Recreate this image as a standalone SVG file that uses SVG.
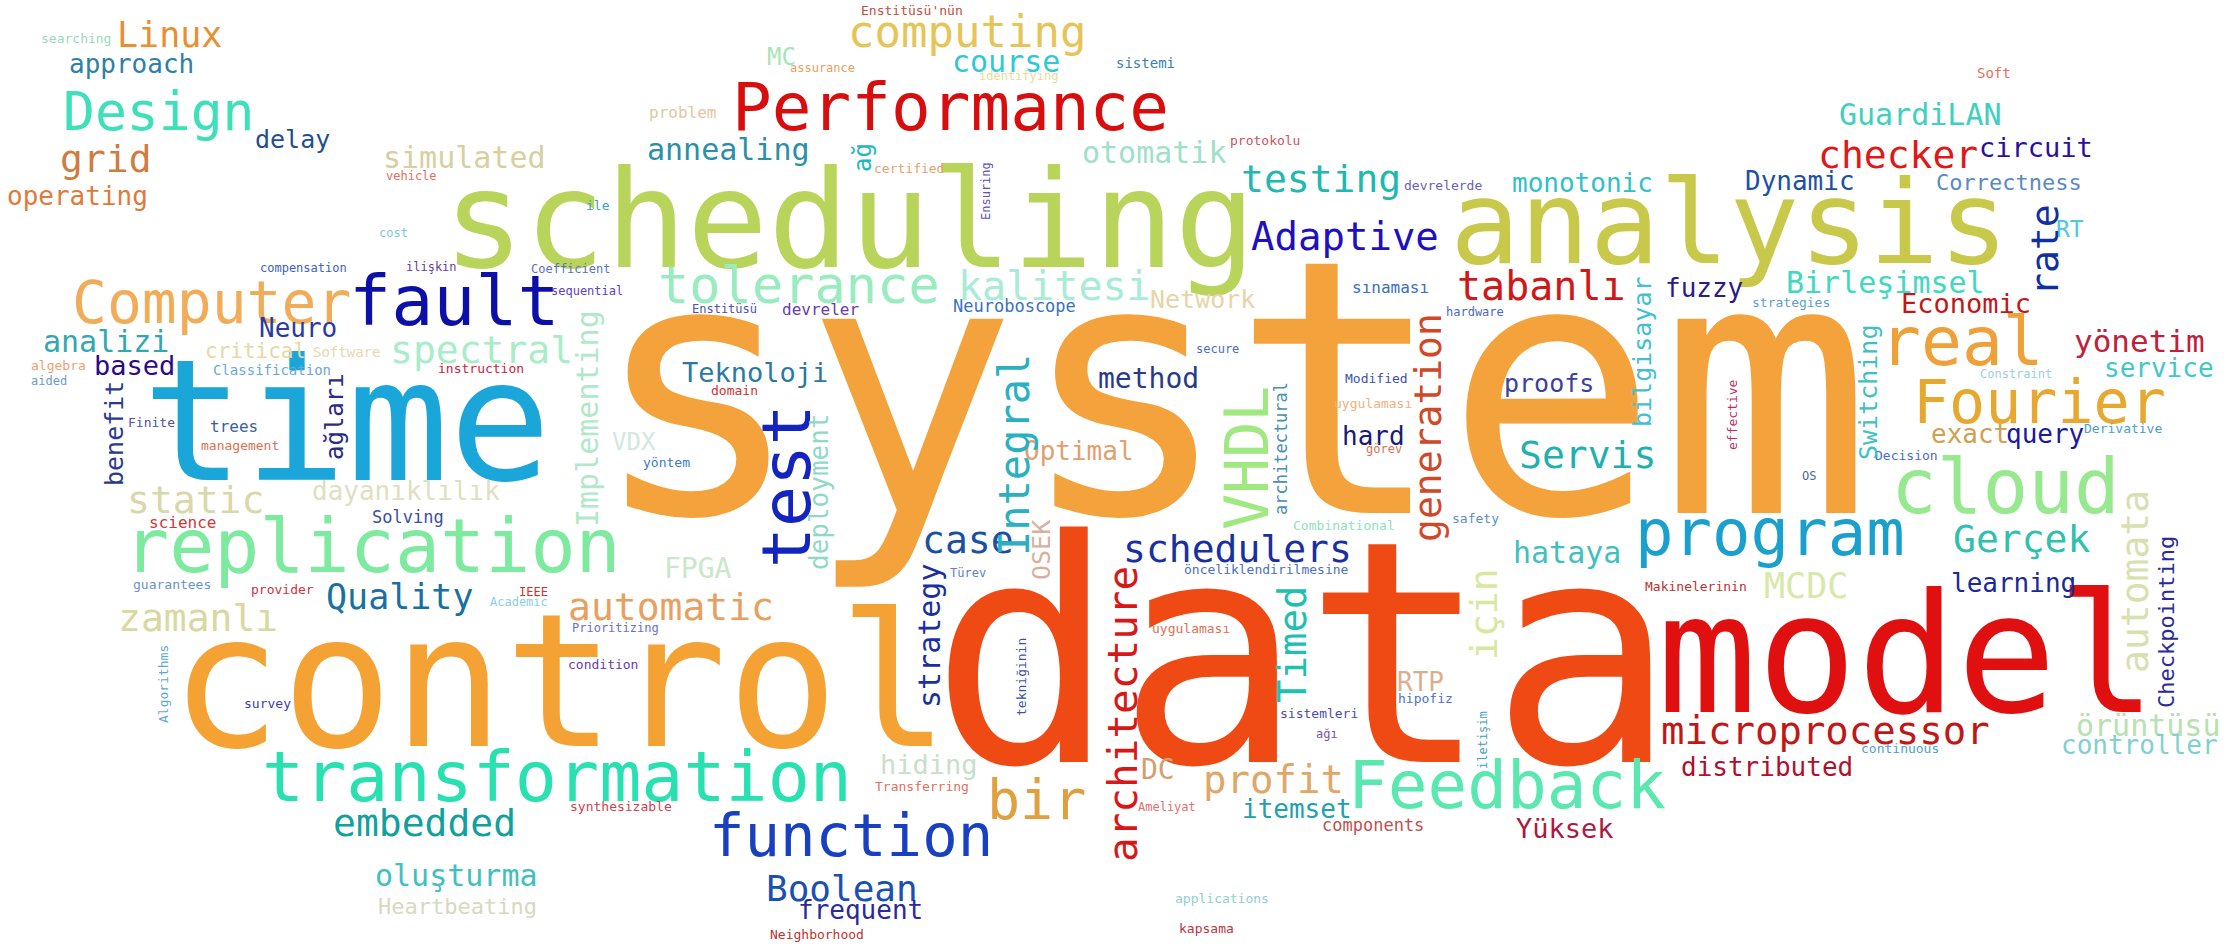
<svg xmlns="http://www.w3.org/2000/svg" width="2227" height="946" viewBox="0 0 2227 946">
<style>
text{font-family:"DejaVu Sans Mono","Liberation Mono",monospace;}
</style>
<rect width="2227" height="946" fill="#ffffff"/>
<g id="big">
<text x="590" y="513" font-size="355" fill="#f4a23c">system</text>
<text x="930" y="762" font-size="310" fill="#f04a14">data</text>
<text x="170" y="746" font-size="185" fill="#f5a235">control</text>
<text x="1657" y="712" font-size="166" fill="#e01010">model</text>
<text x="443" y="267" font-size="135" fill="#b8d45a">scheduling</text>
<text x="1450" y="263" font-size="116" fill="#c8c84a">analysis</text>
<text x="142" y="480" font-size="170" fill="#1aa6d8">time</text>
</g>
<g id="words">
<text x="41" y="43" font-size="13" fill="#9ad8c0">searching</text>
<text x="117" y="47" font-size="35" fill="#e8902f">Linux</text>
<text x="69" y="73" font-size="26" fill="#2f80a8">approach</text>
<text x="63" y="130" font-size="53" fill="#3de0b8">Design</text>
<text x="255" y="148" font-size="25" fill="#1f4f8f">delay</text>
<text x="60" y="172" font-size="38" fill="#cf7c40">grid</text>
<text x="7" y="205" font-size="26" fill="#e07a3a">operating</text>
<text x="383" y="168" font-size="30" fill="#d8cfa0">simulated</text>
<text x="386" y="180" font-size="12" fill="#e07060">vehicle</text>
<text x="379" y="237" font-size="12" fill="#80c8d8">cost</text>
<text x="260" y="272" font-size="12" fill="#4060c0">compensation</text>
<text x="406" y="271" font-size="12" fill="#6a3aa0">ilişkin</text>
<text x="531" y="273" font-size="12" fill="#5a70c8">Coefficient</text>
<text x="551" y="295" font-size="12" fill="#6040c0">sequential</text>
<text x="72" y="323" font-size="58" fill="#f0ac58">Computer</text>
<text x="349" y="325" font-size="70" fill="#0c10a8">fault</text>
<text x="861" y="15" font-size="13" fill="#c05040">Enstitüsü'nün</text>
<text x="848" y="47" font-size="44" fill="#e6c458">computing</text>
<text x="767" y="65" font-size="24" fill="#a8e4b8">MC</text>
<text x="790" y="72" font-size="12" fill="#e8a060">assurance</text>
<text x="952" y="72" font-size="30" fill="#30c8d8">course</text>
<text x="979" y="80" font-size="12" fill="#e8dc98">identifying</text>
<text x="1116" y="68" font-size="14" fill="#3a80b0">sistemi</text>
<text x="732" y="130" font-size="66" fill="#d80e0e">Performance</text>
<text x="649" y="118" font-size="16" fill="#e0c8a0">problem</text>
<text x="647" y="160" font-size="30" fill="#2a8fa8">annealing</text>
<text x="874" y="173" font-size="13" fill="#e8a070">certified</text>
<text x="1082" y="163" font-size="30" fill="#a0e0c8">otomatik</text>
<text x="1230" y="145" font-size="13" fill="#d05060">protokolu</text>
<text x="586" y="210" font-size="13" fill="#3aa0c0">ile</text>
<text x="658" y="303" font-size="52" fill="#98ecc0">tolerance</text>
<text x="958" y="300" font-size="40" fill="#a8ecd8">kalitesi</text>
<text x="1150" y="308" font-size="25" fill="#e8d4a8">Network</text>
<text x="953" y="312" font-size="17" fill="#3a70c0">Neuroboscope</text>
<text x="692" y="313" font-size="12" fill="#5050b0">Enstitüsü</text>
<text x="782" y="315" font-size="16" fill="#6a3ab0">devreler</text>
<text x="1241" y="192" font-size="38" fill="#20b8b0">testing</text>
<text x="1404" y="190" font-size="13" fill="#6a60b0">devrelerde</text>
<text x="1512" y="192" font-size="26" fill="#30c0c8">monotonic</text>
<text x="1251" y="250" font-size="39" fill="#2010c0">Adaptive</text>
<text x="1457" y="300" font-size="40" fill="#d01818">tabanlı</text>
<text x="1352" y="293" font-size="16" fill="#3a70c0">sınaması</text>
<text x="1446" y="316" font-size="12" fill="#4a6ac0">hardware</text>
<text x="1977" y="78" font-size="14" fill="#e07060">Soft</text>
<text x="1839" y="125" font-size="30" fill="#40d0c0">GuardiLAN</text>
<text x="1818" y="168" font-size="38" fill="#e01818">checker</text>
<text x="1979" y="157" font-size="27" fill="#2a10a0">circuit</text>
<text x="1745" y="190" font-size="26" fill="#2050a0">Dynamic</text>
<text x="1936" y="190" font-size="22" fill="#5a8ac0">Correctness</text>
<text x="2056" y="237" font-size="23" fill="#50c8e0">RT</text>
<text x="1665" y="297" font-size="26" fill="#2a1a8a">fuzzy</text>
<text x="1786" y="293" font-size="30" fill="#40d8c0">Birleşimsel</text>
<text x="1752" y="307" font-size="13" fill="#5aa0d0">strategies</text>
<text x="1901" y="313" font-size="27" fill="#c01818">Economic</text>
<text x="259" y="337" font-size="26" fill="#2a3aa0">Neuro</text>
<text x="43" y="352" font-size="30" fill="#30a8b0">analizi</text>
<text x="205" y="358" font-size="21" fill="#e8d8a8">critical</text>
<text x="313" y="357" font-size="14" fill="#e8d8b0">Software</text>
<text x="390" y="363" font-size="38" fill="#a8ecc8">spectral</text>
<text x="31" y="370" font-size="13" fill="#f0a070">algebra</text>
<text x="94" y="375" font-size="27" fill="#2a0a8a">based</text>
<text x="213" y="375" font-size="14" fill="#6aa8d8">Classification</text>
<text x="438" y="373" font-size="13" fill="#d02040">instruction</text>
<text x="31" y="385" font-size="12" fill="#6a9ad0">aided</text>
<text x="128" y="427" font-size="13" fill="#5050a0">Finite</text>
<text x="210" y="432" font-size="16" fill="#3a60a0">trees</text>
<text x="201" y="450" font-size="13" fill="#e07050">management</text>
<text x="312" y="500" font-size="26" fill="#e0e0c0">dayanıklılık</text>
<text x="127" y="513" font-size="38" fill="#d8d8a8">static</text>
<text x="149" y="528" font-size="16" fill="#d03838">science</text>
<text x="372" y="523" font-size="17" fill="#3a50a0">Solving</text>
<text x="124" y="572" font-size="75" fill="#7deaa0">replication</text>
<text x="133" y="589" font-size="13" fill="#6a90d0">guarantees</text>
<text x="251" y="594" font-size="13" fill="#d03040">provider</text>
<text x="326" y="609" font-size="35" fill="#1a70a0">Quality</text>
<text x="519" y="596" font-size="12" fill="#d03030">IEEE</text>
<text x="490" y="606" font-size="12" fill="#8ad0e0">Academic</text>
<text x="118" y="631" font-size="38" fill="#d8d8a0">zamanlı</text>
<text x="612" y="450" font-size="24" fill="#d0e8e0">VDX</text>
<text x="643" y="467" font-size="13" fill="#3a7ad0">yöntem</text>
<text x="682" y="382" font-size="27" fill="#2a7aa0">Teknoloji</text>
<text x="711" y="395" font-size="13" fill="#d03030">domain</text>
<text x="1024" y="460" font-size="26" fill="#e0a070">Optimal</text>
<text x="922" y="553" font-size="38" fill="#1a50a0">case</text>
<text x="950" y="577" font-size="12" fill="#5a80d0">Türev</text>
<text x="568" y="620" font-size="38" fill="#e8a060">automatic</text>
<text x="664" y="578" font-size="28" fill="#c8e8c8">FPGA</text>
<text x="572" y="632" font-size="12" fill="#6a70d0">Prioritizing</text>
<text x="1196" y="353" font-size="12" fill="#4a6ad0">secure</text>
<text x="1098" y="388" font-size="28" fill="#2a3a8a">method</text>
<text x="1345" y="383" font-size="13" fill="#3a50b0">Modified</text>
<text x="1334" y="408" font-size="13" fill="#f0b080">uygulaması</text>
<text x="1342" y="445" font-size="26" fill="#1a1a7a">hard</text>
<text x="1366" y="453" font-size="12" fill="#e07050">görev</text>
<text x="1504" y="392" font-size="25" fill="#3a40a0">proofs</text>
<text x="1519" y="468" font-size="38" fill="#20b0b0">Servis</text>
<text x="1452" y="523" font-size="13" fill="#5a90c0">safety</text>
<text x="1293" y="530" font-size="13" fill="#90e0c0">Combinational</text>
<text x="1123" y="562" font-size="38" fill="#1a30a0">schedulers</text>
<text x="1184" y="574" font-size="13" fill="#4a70c0">önceliklendirilmesine</text>
<text x="1513" y="563" font-size="30" fill="#40c0c0">hataya</text>
<text x="1880" y="365" font-size="68" fill="#f0a038">real</text>
<text x="2074" y="352" font-size="31" fill="#c0203a">yönetim</text>
<text x="2104" y="377" font-size="26" fill="#40c8c8">service</text>
<text x="1980" y="378" font-size="12" fill="#9ad0e0">Constraint</text>
<text x="1913" y="423" font-size="60" fill="#e8a830">Fourier</text>
<text x="1931" y="443" font-size="26" fill="#d0a050">exact</text>
<text x="2006" y="443" font-size="26" fill="#1a1a9a">query</text>
<text x="2084" y="433" font-size="13" fill="#4aa0d0">Derivative</text>
<text x="1875" y="460" font-size="13" fill="#4a6ad0">Decision</text>
<text x="1802" y="480" font-size="12" fill="#4a6aa0">OS</text>
<text x="1891" y="513" font-size="76" fill="#98e890">cloud</text>
<text x="1635" y="555" font-size="64" fill="#1aa0cc">program</text>
<text x="1953" y="552" font-size="38" fill="#30c0b0">Gerçek</text>
<text x="1764" y="598" font-size="35" fill="#d8e8a8">MCDC</text>
<text x="1645" y="591" font-size="13" fill="#c03030">Makinelerinin</text>
<text x="1951" y="592" font-size="26" fill="#1a2a9a">learning</text>
<text x="244" y="708" font-size="13" fill="#3a40b0">survey</text>
<text x="262" y="801" font-size="70" fill="#28e0b0">transformation</text>
<text x="333" y="836" font-size="38" fill="#10a0a0">embedded</text>
<text x="375" y="886" font-size="30" fill="#40c0c0">oluşturma</text>
<text x="378" y="914" font-size="22" fill="#d8d8c0">Heartbeating</text>
<text x="568" y="669" font-size="13" fill="#6a3ab0">condition</text>
<text x="880" y="774" font-size="27" fill="#c8e0c8">hiding</text>
<text x="875" y="791" font-size="13" fill="#e07060">Transferring</text>
<text x="570" y="811" font-size="13" fill="#d04050">synthesizable</text>
<text x="709" y="856" font-size="59" fill="#1840c0">function</text>
<text x="987" y="819" font-size="55" fill="#e0a040">bir</text>
<text x="766" y="901" font-size="36" fill="#1a50b0">Boolean</text>
<text x="798" y="919" font-size="26" fill="#2a2a9a">frequent</text>
<text x="770" y="939" font-size="13" fill="#c03030">Neighborhood</text>
<text x="1152" y="633" font-size="13" fill="#e07050">uygulaması</text>
<text x="1397" y="691" font-size="26" fill="#d8b090">RTP</text>
<text x="1398" y="703" font-size="13" fill="#4a70d0">hipofiz</text>
<text x="1280" y="718" font-size="13" fill="#4a4ab0">sistemleri</text>
<text x="1316" y="738" font-size="12" fill="#7a50b0">ağı</text>
<text x="1141" y="779" font-size="28" fill="#d0a070">DC</text>
<text x="1203" y="793" font-size="39" fill="#e0a868">profit</text>
<text x="1348" y="808" font-size="66" fill="#5ae8b0">Feedback</text>
<text x="1138" y="811" font-size="12" fill="#e07070">Ameliyat</text>
<text x="1242" y="818" font-size="26" fill="#20a0b0">itemset</text>
<text x="1322" y="831" font-size="17" fill="#c05050">components</text>
<text x="1516" y="838" font-size="27" fill="#b01840">Yüksek</text>
<text x="1175" y="903" font-size="13" fill="#90d0d0">applications</text>
<text x="1179" y="933" font-size="13" fill="#c03040">kapsama</text>
<text x="1661" y="744" font-size="39" fill="#c01818">microprocessor</text>
<text x="1861" y="753" font-size="13" fill="#50a0d0">continuous</text>
<text x="2076" y="736" font-size="30" fill="#b8e0b0">örüntüsü</text>
<text x="2061" y="754" font-size="26" fill="#80d0d0">controller</text>
<text x="1681" y="776" font-size="26" fill="#b01030">distributed</text>
</g>
<g id="vertical">
<text transform="translate(871 172) rotate(-90)" font-size="24" fill="#20b8c0">ağ</text>
<text transform="translate(990 220) rotate(-90)" font-size="12" fill="#6050b0">Ensuring</text>
<text transform="translate(123 486) rotate(-90)" font-size="25" fill="#2a3a8a">benefit</text>
<text transform="translate(343 460) rotate(-90)" font-size="24" fill="#2a2a8a">ağları</text>
<text transform="translate(598 527) rotate(-90)" font-size="30" fill="#b0e8c8">Implementing</text>
<text transform="translate(810 568) rotate(-90)" font-size="68" fill="#1424c0">test</text>
<text transform="translate(828 570) rotate(-90)" font-size="26" fill="#90d8c8">deployment</text>
<text transform="translate(1029 556) rotate(-90)" font-size="42" fill="#2ab0c0">Integral</text>
<text transform="translate(1050 580) rotate(-90)" font-size="25" fill="#d8b0a0">OSEK</text>
<text transform="translate(940 708) rotate(-90)" font-size="30" fill="#1a30a0">strategy</text>
<text transform="translate(1268 530) rotate(-90)" font-size="60" fill="#a0e880">VHDL</text>
<text transform="translate(1287 515) rotate(-90)" font-size="17" fill="#4a90b0">architectural</text>
<text transform="translate(1441 542) rotate(-90)" font-size="38" fill="#d04828">generation</text>
<text transform="translate(1651 427) rotate(-90)" font-size="25" fill="#40c0d0">bilgisayar</text>
<text transform="translate(2058 296) rotate(-90)" font-size="38" fill="#1030a0">rate</text>
<text transform="translate(1877 460) rotate(-90)" font-size="25" fill="#40c0c0">Switching</text>
<text transform="translate(1737 450) rotate(-90)" font-size="13" fill="#c02a60">effective</text>
<text transform="translate(2148 673) rotate(-90)" font-size="38" fill="#d8e0b0">automata</text>
<text transform="translate(2174 708) rotate(-90)" font-size="22" fill="#2a2a9a">Checkpointing</text>
<text transform="translate(1497 660) rotate(-90)" font-size="38" fill="#d8e8a0">için</text>
<text transform="translate(1306 703) rotate(-90)" font-size="39" fill="#20c0b0">Timed</text>
<text transform="translate(1137 862) rotate(-90)" font-size="41" fill="#d81818">architecture</text>
<text transform="translate(168 723) rotate(-90)" font-size="13" fill="#5aaad0">Algorithms</text>
<text transform="translate(1026 716) rotate(-90)" font-size="13" fill="#3a50b0">tekniğinin</text>
<text transform="translate(1487 769) rotate(-90)" font-size="12" fill="#40a0c0">iletişim</text>
</g>
</svg>
